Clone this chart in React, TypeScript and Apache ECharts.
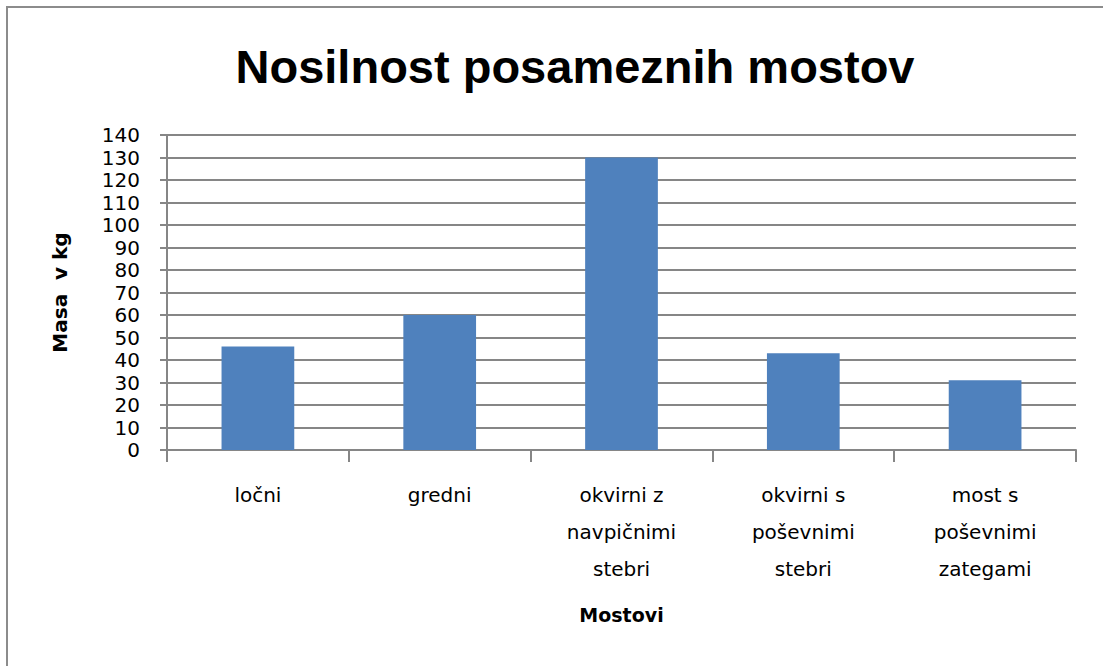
import React, { useEffect, useRef } from "react";
import * as echarts from "echarts";

const categories = [
  "ločni",
  "gredni",
  "okvirni z\nnavpičnimi\nstebri",
  "okvirni s\npoševnimi\nstebri",
  "most s\npoševnimi\nzategami",
];
const values = [46, 60, 130, 43, 31];
const yMin = 0;
const yMax = 140;
const yStep = 10;

export default function App() {
  const ref = useRef<HTMLDivElement>(null);
  useEffect(() => {
    document.body.style.margin = "0";
    const chart = echarts.init(ref.current!, undefined, { renderer: "svg" });
    const font = "'Liberation Sans', Arial, sans-serif";
    const font2 = "'DejaVu Sans', Verdana, sans-serif";
    chart.setOption({
      animation: false,
      backgroundColor: "#ffffff",
      title: {
        text: "Nosilnost posameznih mostov",
        left: 570,
        top: 38,
        textAlign: "center",
        textStyle: { fontFamily: font, fontSize: 47, fontWeight: "bold", color: "#000" },
      },
      graphic: [
        {
          type: "rect",
          shape: { x: 7, y: 7, width: 1110, height: 680 },
          style: { fill: "none", stroke: "#8c8c8c", lineWidth: 2 },
        },
      ],
      grid: { left: 167, right: 27, top: 135, bottom: 216 },
      xAxis: {
        type: "category",
        data: categories,
        name: "Mostovi",
        nameLocation: "middle",
        nameGap: 155,
        nameTextStyle: { fontFamily: font2, fontSize: 19, fontWeight: "bold", color: "#000" },
        axisLine: { show: true, lineStyle: { color: "#868686", width: 2 } },
        axisTick: { show: true, length: 12, alignWithLabel: false, lineStyle: { color: "#868686", width: 2 } },
        axisLabel: {
          interval: 0,
          fontFamily: font2,
          fontSize: 20,
          lineHeight: 37,
          margin: 26,
          color: "#000",
        },
      },
      yAxis: {
        type: "value",
        min: yMin,
        max: yMax,
        interval: yStep,
        name: "Masa  v kg",
        nameLocation: "middle",
        nameRotate: 90,
        nameGap: 97,
        nameTextStyle: { fontFamily: font2, fontSize: 20, fontWeight: "bold", color: "#000" },
        axisLine: { show: true, lineStyle: { color: "#868686", width: 2 } },
        axisTick: { show: true, length: 7, lineStyle: { color: "#868686", width: 2 } },
        axisLabel: { fontFamily: font2, fontSize: 20, margin: 27, color: "#000", lineHeight: 16 },
        splitLine: { show: true, lineStyle: { color: "#868686", width: 2 } },
      },
      series: [
        {
          type: "bar",
          data: values,
          barCategoryGap: "60%",
          itemStyle: { color: "#4F81BD" },
        },
      ],
    });
    return () => chart.dispose();
  }, []);
  return <div ref={ref} style={{ width: 1103, height: 666, position: "absolute", left: 0, top: 0 }} />;
}
